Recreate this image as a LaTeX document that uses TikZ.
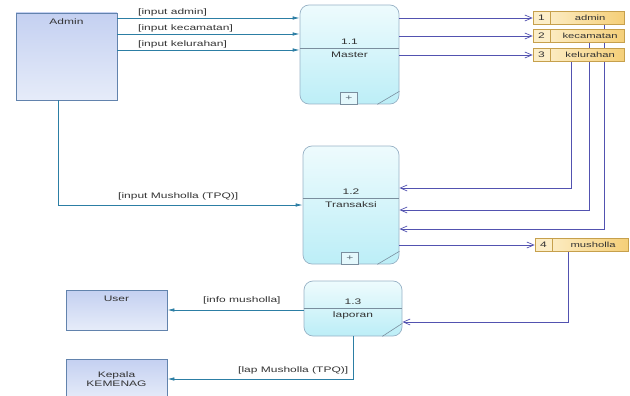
\documentclass[tikz,border=0pt]{standalone}
\usepackage{fontspec}
\setmainfont[FakeStretch=1.5]{Liberation Sans}
\usetikzlibrary{arrows.meta,calc,backgrounds}
\definecolor{entb}{HTML}{6283AD}
\definecolor{entt}{HTML}{C4D0F1}
\definecolor{entbot}{HTML}{E6ECF9}
\definecolor{procb}{HTML}{98B2C6}
\definecolor{proct}{HTML}{EEFBFD}
\definecolor{procbot}{HTML}{BCEEF7}
\definecolor{teala}{HTML}{2C7EA4}
\definecolor{sline}{HTML}{5252B0}
\definecolor{stb}{HTML}{C6A04C}
\definecolor{stid}{HTML}{FCEEC8}
\definecolor{stl}{HTML}{FCEBC0}
\definecolor{str}{HTML}{F5CF78}
\definecolor{txt}{HTML}{333333}
\tikzset{
  ent/.style={draw=entb, top color=entt, bottom color=entbot, inner sep=0pt, line width=0.8pt},
  proc/.style={draw=procb, rounded corners=9pt, top color=proct, bottom color=procbot, inner sep=0pt, line width=0.7pt},
  procline/.style={draw=procb!80!black, line width=0.6pt},
  plusbox/.style={draw=procb!80!black, fill=white!60!procbot, minimum width=17pt, minimum height=12pt, inner sep=0pt, line width=0.5pt, text=procb!60!black},
  sid/.style={draw=stb, fill=stid, minimum width=17pt, minimum height=13pt, inner sep=0pt, line width=0.6pt, text=txt},
  sname/.style={draw=stb, left color=stl, right color=str, minimum height=13pt, inner sep=0pt, line width=0.6pt, text=txt, font=\fontsize{7.5}{9}\selectfont},
  tarr/.style={draw=teala, line width=0.7pt, -{Latex[length=7pt,width=3.5pt]}},
  sarr/.style={draw=sline, line width=0.7pt, -{Straight Barb[length=7pt,width=6pt]}},
  lbl/.style={text=txt, anchor=west, inner sep=0pt},
  ptxt/.style={text=txt, inner sep=0pt},
}
\begin{document}
\begin{tikzpicture}[x=1pt,y=-1pt,font=\fontsize{8}{9.5}\selectfont]
\useasboundingbox (0,0) rectangle (630,396);

% external entities
\node[ent, minimum width=101pt, minimum height=87pt,
      label={[anchor=north,yshift=-3pt,text=txt]north:Admin}] (admin) at (66.5,56.5) {};
\node[ent, minimum width=101pt, minimum height=40pt,
      label={[anchor=north,yshift=-3pt,text=txt]north:User}] (user) at (116.5,310) {};
\node[ent, minimum width=101pt, minimum height=40pt, text=txt, align=center] (kep) at (116.5,379) {Kepala\\KEMENAG};

% processes
\node[proc, minimum width=99pt, minimum height=99pt] (p11) at (349.5,54.5) {};
\node[proc, minimum width=96pt, minimum height=118pt] (p12) at (351,205) {};
\node[proc, minimum width=98pt, minimum height=55pt] (p13) at (353,308.5) {};

\draw[procline] (p11.west |- 0,48) -- (p11.east |- 0,48);
\draw[procline] (p12.west |- 0,198) -- (p12.east |- 0,198);
\draw[procline] (p13.west |- 0,308) -- (p13.east |- 0,308);

\node[ptxt] (p11n) at (349.5,42) {1.1};
\node[ptxt] (p11t) at (349.5,55) {Master};
\node[ptxt] (p12n) at (351,191.5) {1.2};
\node[ptxt] (p12t) at (351,205) {Transaksi};
\node[ptxt] (p13n) at (353,301.5) {1.3};
\node[ptxt] (p13t) at (353,315) {laporan};

\node[plusbox] (p11p) at (349,98) {+};
\node[plusbox] (p12p) at (350,258) {+};

\draw[procline] ($(p11.south east)+(-22,0)$) -- ($(p11.south east)+(0,-13)$);
\draw[procline] ($(p12.south east)+(-22,0)$) -- ($(p12.south east)+(0,-13)$);
\draw[procline] ($(p13.south east)+(-20,0)$) -- ($(p13.south east)+(0,-13)$);

% data stores
\node[sid] (s1id) at (541.5,18) {1};
\node[sname, minimum width=74pt, anchor=west] (s1) at (s1id.east) {\hspace*{5pt}admin};
\node[sid] (s2id) at (541.5,36) {2};
\node[sname, minimum width=74pt, anchor=west] (s2) at (s2id.east) {\hspace*{5pt}kecamatan};
\node[sid] (s3id) at (541.5,55) {3};
\node[sname, minimum width=74pt, anchor=west] (s3) at (s3id.east) {\hspace*{5pt}kelurahan};
\node[sid] (s4id) at (543.5,245) {4};
\node[sname, minimum width=76pt, anchor=west] (s4) at (s4id.east) {\hspace*{5pt}musholla};

% store lines behind the stores
\begin{scope}[on background layer]
  \draw[sarr] (s3.south -| 571,0) |- (p12.east |- 0,188);
  \draw[sarr] (s2.south -| 589,0) |- (p12.east |- 0,210);
  \draw[sarr] (s1.south -| 604,0) |- (p12.east |- 0,229);
\end{scope}

% flows admin -> master
\draw[tarr] (admin.east |- 0,18) -- (p11.west |- 0,18);
\draw[tarr] (admin.east |- 0,34) -- (p11.west |- 0,34);
\draw[tarr] (admin.east |- 0,50) -- (p11.west |- 0,50);
\node[lbl] (l1) at (138,12) {[input admin]};
\node[lbl] (l2) at (138,28.5) {[input kecamatan]};
\node[lbl] (l3) at (138,44.5) {[input kelurahan]};

% master -> stores
\draw[sarr] (p11.east |- 0,18) -- (s1id.west);
\draw[sarr] (p11.east |- 0,36) -- (s2id.west);
\draw[sarr] (p11.east |- 0,55) -- (s3id.west);

% admin -> transaksi
\draw[tarr] (admin.south -| 58,0) |- (p12.west |- 0,205);
\node[lbl] (l4) at (118,196.5) {[input Musholla (TPQ)]};

% transaksi -> musholla
\draw[sarr] (p12.east |- 0,245) -- (s4id.west);

% musholla -> laporan
\draw[sarr] (s4.south -| 568,0) |- (p13.east |- 0,322);

% laporan -> user / kepala
\draw[tarr] (p13.west |- 0,310) -- (user.east |- 0,310);
\node[lbl] (l5) at (203,300.5) {[info musholla]};
\draw[tarr] (p13.south) |- (kep.east |- 0,379);
\node[lbl] (l6) at (238,370) {[lap Musholla (TPQ)]};
\end{tikzpicture}
\end{document}
